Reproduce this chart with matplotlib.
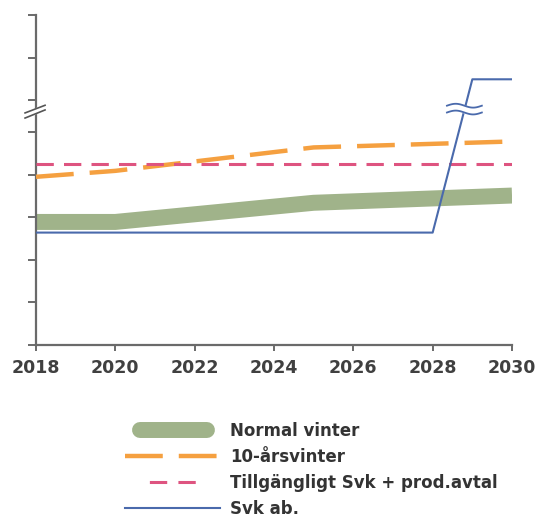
import numpy as np
import matplotlib
matplotlib.use("Agg")
import matplotlib.pyplot as plt
from matplotlib.lines import Line2D
import matplotlib.transforms as mtransforms

# values (axis has no labels, units are tick steps)
normal_years = [2018, 2020, 2025, 2030]
normal_vinter = [2.89, 2.89, 3.34, 3.51]

tio_years = [2018, 2020, 2025, 2030]
tio_arsvinter = [3.95, 4.09, 4.64, 4.78]

tillg_years = [2018, 2030]
tillgangligt = [4.24, 4.24]

svk_years = [2018, 2028, 2029, 2030]
svk_ab = [2.64, 2.64, 6.24, 6.24]

xticks = [2018, 2020, 2022, 2024, 2026, 2028, 2030]
yticks = [0, 1, 2, 3, 4, 5, 5.75, 6.75, 7.75]
labels = ["Normal vinter", "10-årsvinter", "Tillgängligt Svk + prod.avtal", "Svk ab."]

c_green = "#a0b38a"
c_orange = "#f5a040"
c_red = "#de5480"
c_blue = "#4a6aac"
c_axis = "#6a6a6a"

fig = plt.figure(figsize=(5.37, 5.18), dpi=100)
W, H = 537, 518
ax = fig.add_axes([36 / W, 1 - 345 / H, 476 / W, 330 / H])

ax.plot(normal_years, normal_vinter, color=c_green, lw=11.5, solid_capstyle="butt",
        solid_joinstyle="round", zorder=2)
ax.plot(tio_years, tio_arsvinter, color=c_orange, lw=3.2,
        linestyle=(0, (8.5, 3.6)), zorder=3)
ax.plot(tillg_years, tillgangligt, color=c_red, lw=2.2,
        linestyle=(0, (5.67, 3.33)), zorder=4)
ax.plot(svk_years, svk_ab, color=c_blue, lw=1.5, zorder=5)

# break mark on the Svk ab. line
wx = np.linspace(2028.36, 2029.24, 60)
wave = 0.045 * np.sin((wx - wx[0]) / (wx[-1] - wx[0]) * 2 * np.pi)
ax.fill_between(wx, 5.46 + wave, 5.62 + wave, color="white", zorder=6)
ax.plot(wx, 5.46 + wave, color=c_blue, lw=1.3, zorder=7)
ax.plot(wx, 5.62 + wave, color=c_blue, lw=1.3, zorder=7)

ax.set_xlim(2018, 2030)
ax.set_ylim(0, 7.75)
ax.set_xticks(xticks)
ax.set_xticklabels([str(x) for x in xticks])
ax.set_yticks(yticks)
ax.set_yticklabels([])

for s in ["top", "right"]:
    ax.spines[s].set_visible(False)
for s in ["left", "bottom"]:
    ax.spines[s].set_color(c_axis)
    ax.spines[s].set_linewidth(1.6)
ax.tick_params(axis="y", direction="out", length=6, width=1.4, color=c_axis)
ax.tick_params(axis="x", direction="out", length=4, width=1.4, color=c_axis,
               pad=6, labelsize=12.5, labelcolor="#404040")
for t in ax.get_xticklabels():
    t.set_fontweight("bold")

# break mark on the y axis
tr = mtransforms.blended_transform_factory(ax.transAxes, ax.transData)
bx = [-0.023, 0.019]
ax.fill([bx[0], bx[1], bx[1], bx[0]], [5.33, 5.52, 5.63, 5.45], color="white",
        transform=tr, clip_on=False, zorder=8)
ax.plot(bx, [5.33, 5.52], color="#555555", lw=1.2, transform=tr, clip_on=False, zorder=9)
ax.plot(bx, [5.45, 5.63], color="#555555", lw=1.2, transform=tr, clip_on=False, zorder=9)

# legend proxies
h_green = Line2D([], [], color=c_green, lw=11.5, dash_capstyle="round",
                 linestyle=(13.25, (4.19, 10)))
h_orange = Line2D([], [], color=c_orange, lw=3.2, linestyle=(0, (8.5, 3.6)))
h_red = Line2D([], [], color=c_red, lw=2.2, linestyle=(40.33, (5.67, 3.67, 5.67, 33.3)))
h_blue = Line2D([], [], color=c_blue, lw=1.5)

fig.legend([h_green, h_orange, h_red, h_blue], labels,
           loc="upper left", bbox_to_anchor=(125 / W, 1 - 422 / H),
           frameon=False, borderpad=0, borderaxespad=0,
           handlelength=5.7, handletextpad=0.6, labelspacing=0.47,
           prop={"size": 12, "weight": "bold"}, labelcolor="#333333")

fig.savefig("out.png", dpi=100)
